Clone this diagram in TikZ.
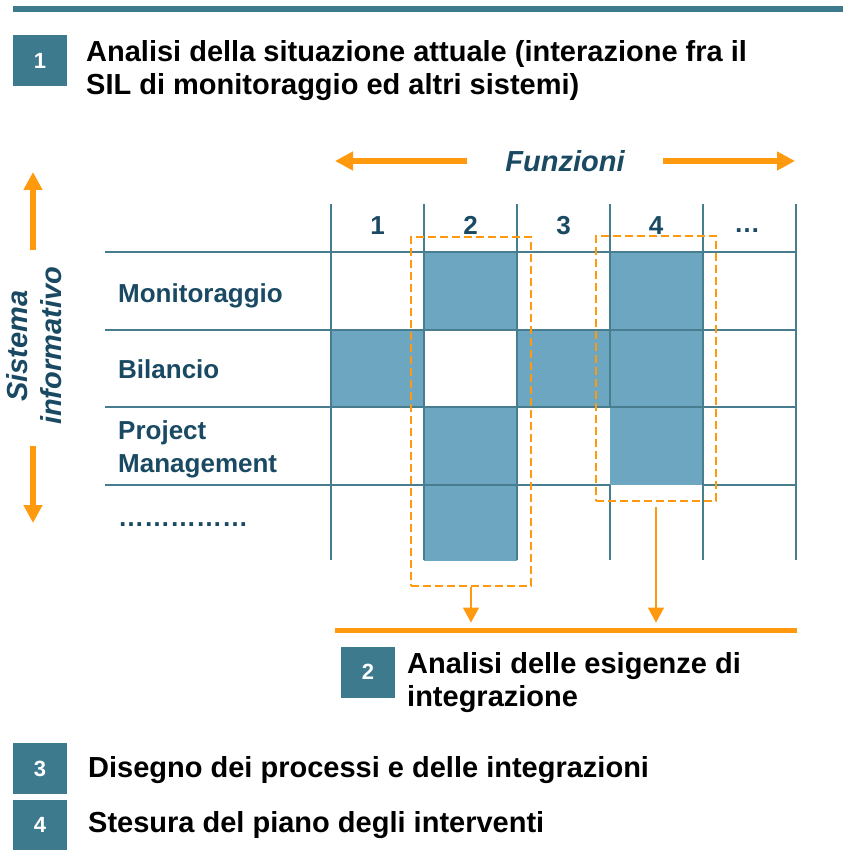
\documentclass[tikz,border=0pt]{standalone}
\usepackage{fontspec}
\setmainfont{Liberation Sans}
\usetikzlibrary{arrows.meta}
\definecolor{tealbox}{HTML}{3D7A8D}
\definecolor{gridc}{HTML}{487D90}
\definecolor{cellc}{HTML}{6DA6C0}
\definecolor{orng}{HTML}{FF9A0E}
\definecolor{darkt}{HTML}{1A4A63}
\begin{document}
\begin{tikzpicture}[x=1pt,y=-1pt,
  numbox/.style={fill=tealbox, text=white, font=\fontsize{22}{22}\selectfont\bfseries, minimum width=54pt, minimum height=51pt, inner sep=0pt},
  bigtext/.style={anchor=base west, inner sep=0pt, font=\fontsize{29}{33}\selectfont\bfseries},
  rowlab/.style={anchor=base west, inner sep=0pt, text=darkt, font=\fontsize{26}{30}\selectfont\bfseries},
  colnum/.style={anchor=base, inner sep=0pt, text=darkt, font=\fontsize{26}{30}\selectfont\bfseries},
  axislab/.style={inner sep=0pt, text=darkt, font=\fontsize{29}{33}\selectfont\bfseries\itshape},
  gridline/.style={draw=gridc, line width=2.5pt},
  cell/.style={fill=cellc},
  fatarrow/.style={draw=orng, line width=6pt, -{Triangle[width=18pt,length=18pt]}},
  thinarrow/.style={draw=orng, line width=1.6pt, -{Triangle[width=16pt,length=15pt]}},
  dashbox/.style={draw=orng, line width=2pt, dash pattern=on 8pt off 4pt, inner sep=0pt},
]
\useasboundingbox[fill=white] (0,0) rectangle (843,850);

% top bar
\fill[tealbox] (13,6) rectangle (843,12);

% step 1
\node[numbox] (b1) at (40,60.5) {1};
\node[bigtext] (t1a) at (86,62) {Analisi della situazione attuale (interazione fra il};
\node[bigtext] (t1b) at (86,95) {SIL di monitoraggio ed altri sistemi)};

% axis labels and arrows
\node[axislab, anchor=base] (funz) at (565,172) {Funzioni};
\coordinate (fl0) at (467,161);
\coordinate (fl1) at (335,161);
\coordinate (fr0) at (663,161);
\coordinate (fr1) at (795,161);
\draw[fatarrow] (fl0) -- (fl1);
\draw[fatarrow] (fr0) -- (fr1);

\node[axislab, anchor=base, rotate=90] (sis) at (27,346) {Sistema};
\node[axislab, anchor=base, rotate=90] (inf) at (61,346) {informativo};
\coordinate (vu0) at (33,250);
\coordinate (vu1) at (33,172);
\coordinate (vd0) at (33,446);
\coordinate (vd1) at (33,523);
\draw[fatarrow] (vu0) -- (vu1);
\draw[fatarrow] (vd0) -- (vd1);

% filled cells
\fill[cell] (424,252) rectangle (517,330);
\fill[cell] (424,407) rectangle (517,561);
\fill[cell] (610,252) rectangle (703,485);
\fill[cell] (331,330) rectangle (424,407);
\fill[cell] (517,330) rectangle (610,407);

% grid lines
\foreach \x in {331,424,517,703,796} \draw[gridline] (\x,204) -- (\x,560);
\draw[gridline] (610,204) -- (610,407);
\draw[gridline] (610,485) -- (610,560);
\foreach \y in {252,330,407} \draw[gridline] (105,\y) -- (796,\y);
\draw[gridline] (105,485) -- (610,485);
\draw[gridline] (703,485) -- (796,485);

% column numbers
\node[colnum] (c1) at (377.5,234) {1};
\node[colnum] (c2) at (470.5,234) {2};
\node[colnum] (c3) at (563.5,234) {3};
\node[colnum] (c4) at (656,234) {4};
\node[colnum] (c5) at (747,233) {…};

% row labels
\node[rowlab] (r1) at (118,302) {Monitoraggio};
\node[rowlab] (r2) at (118,378) {Bilancio};
\node[rowlab] (r3a) at (118,439) {Project};
\node[rowlab] (r3b) at (118,472) {Management};
\node[rowlab] (r4) at (118,526) {……………};

% dashed selections
\node[dashbox, minimum width=120pt, minimum height=349pt] (selA) at (471,411.5) {};
\node[dashbox, minimum width=120pt, minimum height=265pt] (selB) at (656,368.5) {};

% orange bar and arrows
\node[fill=orng, minimum width=462pt, minimum height=5.5pt, inner sep=0pt] (bar) at (566,630.5) {};
\draw[thinarrow, shorten >=5pt] (selA.south) -- (selA.south |- bar.north);
\draw[thinarrow, shorten <=5pt, shorten >=5pt] (selB.south) -- (selB.south |- bar.north);

% step 2
\node[numbox] (b2) at (368,672) {2};
\node[bigtext] (t2a) at (407,673) {Analisi delle esigenze di};
\node[bigtext] (t2b) at (407,706) {integrazione};

% steps 3 and 4
\node[numbox] (b3) at (40,768.5) {3};
\node[bigtext] (t3) at (88,777) {Disegno dei processi e delle integrazioni};
\node[numbox, minimum height=50pt] (b4) at (40,825) {4};
\node[bigtext] (t4) at (88,832) {Stesura del piano degli interventi};
\end{tikzpicture}
\end{document}
